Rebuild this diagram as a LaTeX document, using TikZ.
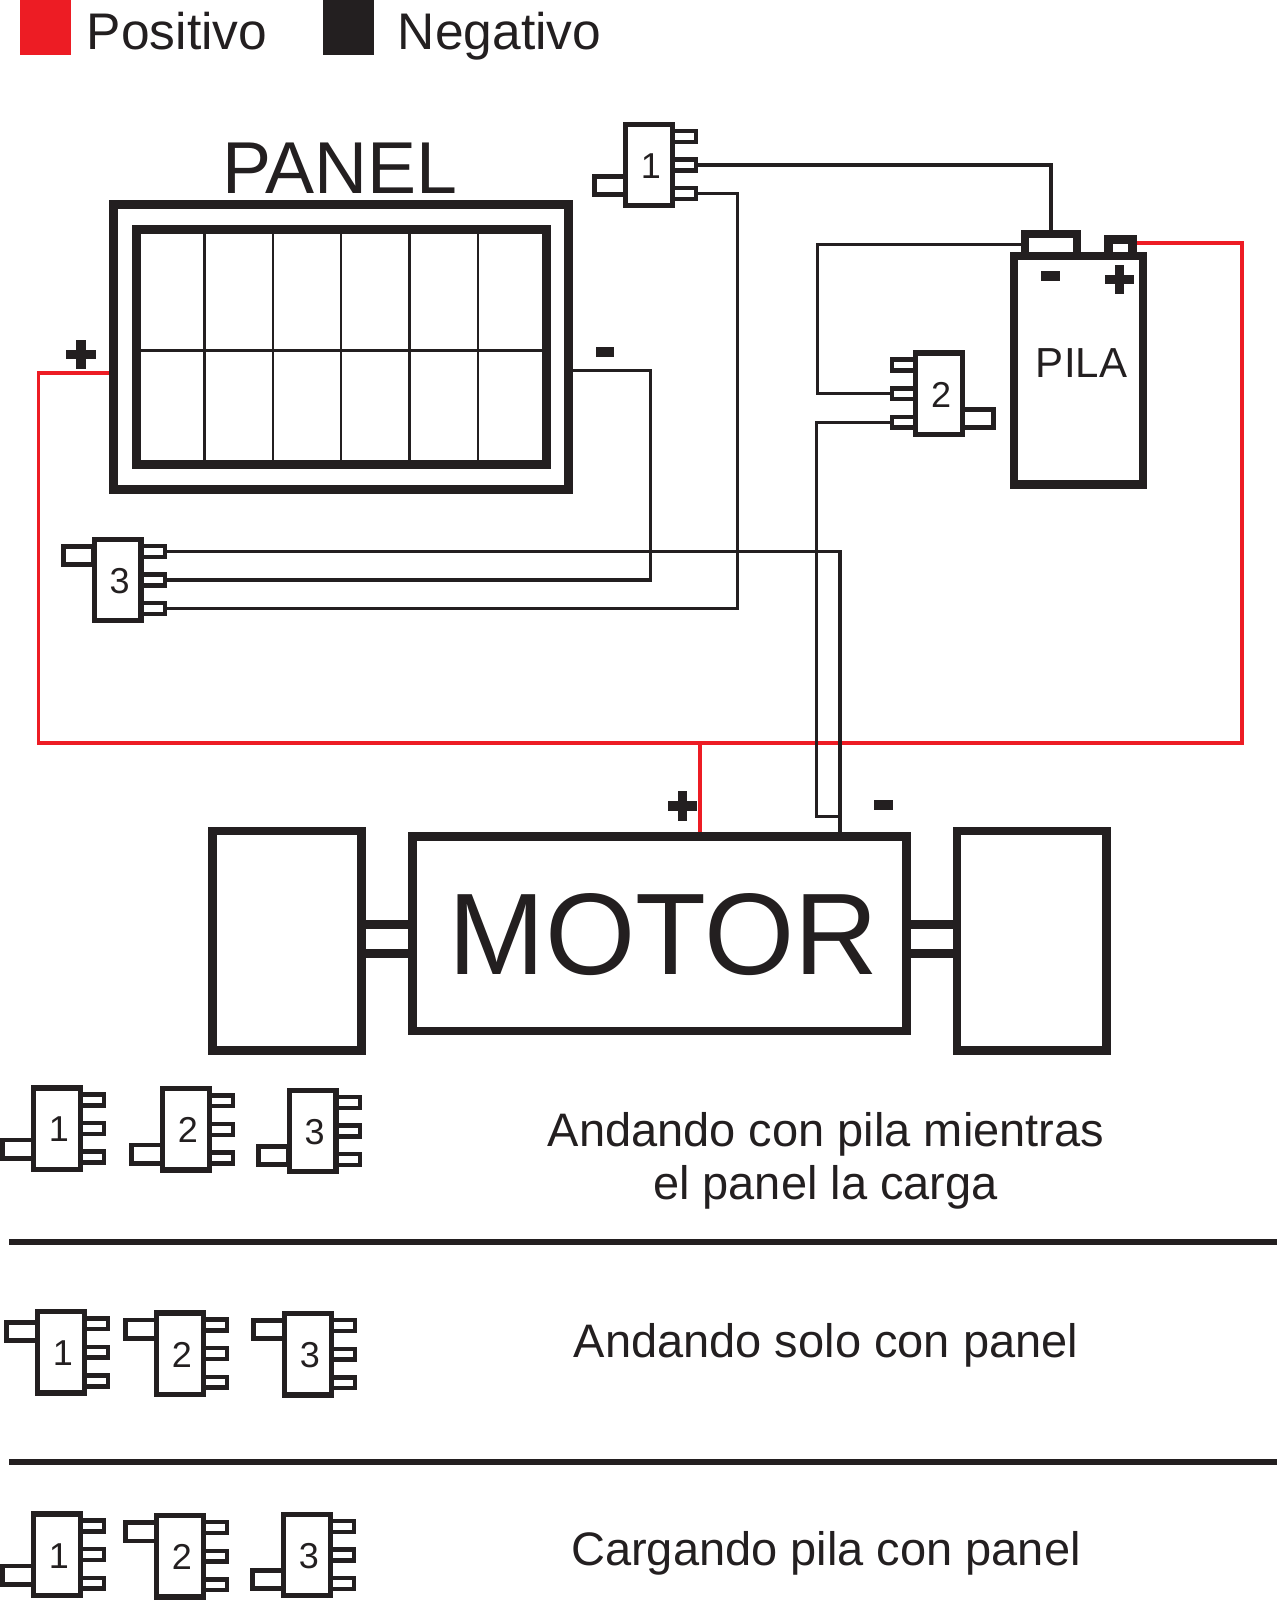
\documentclass[tikz,border=0pt]{standalone}
\usepackage{fontspec}
\setmainfont{Liberation Sans}
\definecolor{negro}{HTML}{231F20}
\definecolor{rojo}{HTML}{ED1C24}
\tikzset{
  caja/.style={draw=negro, line width=8.6, fill=white, inner sep=0},
  cuerpo/.style={draw=negro, line width=5.3, fill=white, inner sep=0, minimum width=46.7, minimum height=81.3},
  numero/.style={text=negro, inner sep=0, font=\fontsize{36}{36}\selectfont},
  pata/.style={draw=negro, line width=4.5, fill=white, minimum width=23, minimum height=10.8},
  lengua/.style={draw=negro, line width=4.8, fill=white, minimum width=30.3, minimum height=18.2},
  cable/.style={draw=negro, line width=3.5},
  cablerojo/.style={draw=rojo, line width=3.6},
  signo/.style={fill=negro, inner sep=0},
  rotulo/.style={text=negro, inner sep=0, anchor=base},
  separa/.style={draw=negro, line width=6}
}
% name, x, y, side of the legs (1 right, -1 left), offset of the tab, number
\newcommand{\llave}[6]{
  \node[pata] (#1-a) at ({#2+#4*35.7}, #3-28.6) {};
  \node[pata] (#1-b) at ({#2+#4*35.7}, #3) {};
  \node[pata] (#1-c) at ({#2+#4*35.7}, #3+28.6) {};
  \node[lengua] (#1-t) at ({#2-#4*39.1}, #3+#5) {};
  \node[cuerpo] (#1) at (#2, #3) {};
  \node[numero] (#1-n) at (#2+2, #3+1) {#6};
}
\newcommand{\signomas}[3]{
  \node[signo, minimum width=29.4, minimum height=9.5] (#1-h) at (#2, #3) {};
  \node[signo, minimum width=9.5, minimum height=29.4] (#1-v) at (#2, #3) {};
}
\newcommand{\signomenos}[3]{
  \node[signo, minimum width=18.8, minimum height=9.7] (#1) at (#2, #3) {};
}
\begin{document}
\begin{tikzpicture}[x=1pt, y=-1pt]
\useasboundingbox (0, 0) rectangle (1277, 1600);

% legend
\node[signo, fill=rojo, minimum width=51, minimum height=55] (leyrojo) at (45.5, 27.5) {};
\node[signo, minimum width=51, minimum height=55] (leynegro) at (348.2, 27.5) {};
\node[rotulo, font=\fontsize{51.5}{52}\selectfont] (positivo) at (177, 50) {Positivo};
\node[rotulo, font=\fontsize{51.5}{52}\selectfont] (negativo) at (499.6, 50) {Negativo};

% panel
\node[rotulo, font=\fontsize{73.5}{74}\selectfont] (tpanel) at (339.8, 193) {PANEL};
\node[caja, line width=9, minimum width=454.6, minimum height=284.6] (panel) at (341.2, 347.2) {};
\node[caja, line width=9, minimum width=409.6, minimum height=235.4] (celdas) at (341.3, 347.2) {};
\draw[negro, line width=2.6] (204.5, 234) -- (204.5, 461);
\draw[negro, line width=2.6] (273, 234) -- (273, 461);
\draw[negro, line width=2.6] (341, 234) -- (341, 461);
\draw[negro, line width=2.6] (409.4, 234) -- (409.4, 461);
\draw[negro, line width=2.6] (478, 234) -- (478, 461);
\draw[negro, line width=2.6] (141, 350.6) -- (542, 350.6);
\signomas{ppos}{81}{354.7}
\signomenos{pneg}{605}{352}
\coordinate (salpos) at (109.4, 373);
\coordinate (salneg) at (573, 370.6);

% battery
\node[caja, minimum width=52, minimum height=22] (termneg) at (1051, 245) {};
\node[caja, minimum width=24.4, minimum height=16.5] (termpos) at (1120.5, 247.7) {};
\node[caja, minimum width=129.1, minimum height=228.2] (pila) at (1078.5, 370.2) {};
\node[rotulo, font=\fontsize{42}{42}\selectfont] (tpila) at (1081.5, 377.3) {PILA};
\signomenos{bneg}{1050.4}{276.3}
\signomas{bpos}{1119.3}{279.5}
\coordinate (salbat) at (1137, 242.7);

% motor and wheels
\node[caja, line width=9, minimum width=60, minimum height=28.7] (ejeizq) at (387, 938.8) {};
\node[caja, line width=9, minimum width=60, minimum height=28.7] (ejeder) at (931.8, 938.8) {};
\node[caja, minimum width=149.4, minimum height=219.7] (ruedaizq) at (287, 940.8) {};
\node[caja, minimum width=149.4, minimum height=219.7] (ruedader) at (1031.8, 940.8) {};
\node[caja, minimum width=494.5, minimum height=194.8] (motor) at (659.5, 933.6) {};
\node[rotulo, font=\fontsize{116}{116}\selectfont] (tmotor) at (663.3, 974.7) {MOTOR};
\signomas{mpos}{682.7}{806}
\signomenos{mneg}{883.4}{805}

% switches of the circuit
\llave{ll1}{649}{165}{1}{20.4}{1}
\llave{ll2}{939}{393.7}{-1}{24.6}{2}
\llave{ll3}{117.7}{580}{1}{-24.3}{3}

% red wires
\coordinate (esqa) at (38.4, 743);
\coordinate (esqb) at (1241.7, 743);
\coordinate (rama) at (700, 743);
\draw[cablerojo] (salpos) -| (esqa) -- (esqb) |- (salbat);
\draw[cablerojo] (rama) -- (rama |- motor.north);

% black wires
\coordinate (bajada1) at (737.7, 400);
\coordinate (bajada2) at (650.6, 450);
\coordinate (entmotor) at (840, 833);
\coordinate (lazo) at (816.7, 816.7);
\coordinate (vuelta) at (817.6, 244.3);
\draw[cable] (ll1-b.east) -| (termneg.north);
\draw[cable] (ll1-c.east) -| (bajada1) |- (ll3-c.east);
\draw[cable] (salneg) -| (bajada2) |- (ll3-b.east);
\draw[cable] (ll3-a.east) -| (entmotor);
\draw[cable] (ll2-b.west) -| (vuelta) -- (vuelta -| termneg.west);
\draw[cable] (ll2-c.west) -| (lazo) -- (lazo -| entmotor);

% first case
\llave{ua}{57}{1128.5}{1}{20.5}{1}
\llave{ub}{186}{1129.4}{1}{24.7}{2}
\llave{uc}{312.7}{1131}{1}{24.7}{3}
\node[rotulo, font=\fontsize{47}{47}\selectfont] (caso1a) at (826, 1146) {Andando con pila mientras};
\node[rotulo, font=\fontsize{47}{47}\selectfont] (caso1b) at (825.5, 1199) {el panel la carga};
\coordinate (sep1a) at (9, 1242);
\coordinate (sep1b) at (1277, 1242);
\draw[separa] (sep1a) -- (sep1b);

% second case
\llave{da}{61}{1352.3}{1}{-20.6}{1}
\llave{db}{180}{1353.6}{1}{-24.6}{2}
\llave{dc}{308}{1354.2}{1}{-24.6}{3}
\node[rotulo, font=\fontsize{47}{47}\selectfont] (caso2) at (826, 1357) {Andando solo con panel};
\coordinate (sep2a) at (9, 1461.7);
\coordinate (sep2b) at (1277, 1461.7);
\draw[separa] (sep2a) -- (sep2b);

% third case
\llave{ta}{57}{1554.6}{1}{20.4}{1}
\llave{tb}{180}{1556.2}{1}{-24.4}{2}
\llave{tc}{307}{1555}{1}{24.3}{3}
\node[rotulo, font=\fontsize{47}{47}\selectfont] (caso3) at (826, 1565) {Cargando pila con panel};
\end{tikzpicture}
\end{document}
